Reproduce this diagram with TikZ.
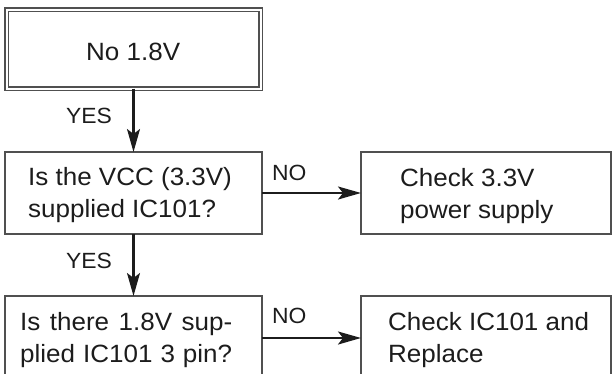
\documentclass[tikz,border=0pt]{standalone}
\usepackage{fontspec}
\setmainfont[FakeStretch=1.04]{Liberation Sans}
\usetikzlibrary{arrows.meta}
\definecolor{boxline}{HTML}{505050}
\definecolor{ink}{HTML}{1C1C1C}
\tikzset{
  box/.style={draw=boxline, line width=1.1pt, rectangle, inner sep=0pt, outer sep=0pt, anchor=north west},
  txt/.style={inner sep=0pt, anchor=base west, align=left, text=ink, font=\fontsize{25}{31.5}\selectfont},
  lbl/.style={inner sep=0pt, anchor=base west, text=ink, font=\fontsize{22}{26}\selectfont},
  arr/.style={draw=ink, line width=2.2pt, -{Stealth[length=23pt,width=13pt,inset=5pt]}}
}
\begin{document}
\begin{tikzpicture}[x=1pt,y=-1pt]
\useasboundingbox (0,0) rectangle (614,373);
% boxes
\node[box, double, double distance=2pt, minimum width=254pt, minimum height=79pt] (b1) at (6.5,9.5) {};
\node[box, minimum width=257pt, minimum height=82pt] (b2) at (5,152) {};
\node[box, minimum width=257pt, minimum height=92pt] (b3) at (5,296) {};
\node[box, minimum width=250pt, minimum height=82pt] (r1) at (361,152) {};
\node[box, minimum width=250pt, minimum height=92pt] (r2) at (361,296) {};
% texts (anchor is the baseline of the last line)
\node[txt] (t1) at (86,60) {No 1.8V};
\node[txt] (t2) at (28,217) {Is the VCC (3.3V)\\supplied IC101?};
\node[txt] (t3) at (20,362) {\hbox to 212pt{Is there 1.8V sup-}\\\hbox to 212pt{plied IC101 3 pin?}};
\node[txt] (t4) at (400,218) {Check 3.3V\\power supply};
\node[txt] (t5) at (388,362) {Check IC101 and\\Replace};
% labels
\node[lbl] (y1) at (66,123) {YES};
\node[lbl] (y2) at (66,268) {YES};
\node[lbl] (n1) at (272,180) {NO};
\node[lbl] (n2) at (272,323) {NO};
% connectors
\draw[arr] (b1.south) -- (b2.north);
\draw[arr] (b2.south) -- (b3.north);
\draw[arr] (b2.east) -- (r1.west);
\draw[arr] ([yshift=-42pt]b3.north east) -- ([yshift=-42pt]r2.north west);
\end{tikzpicture}
\end{document}
